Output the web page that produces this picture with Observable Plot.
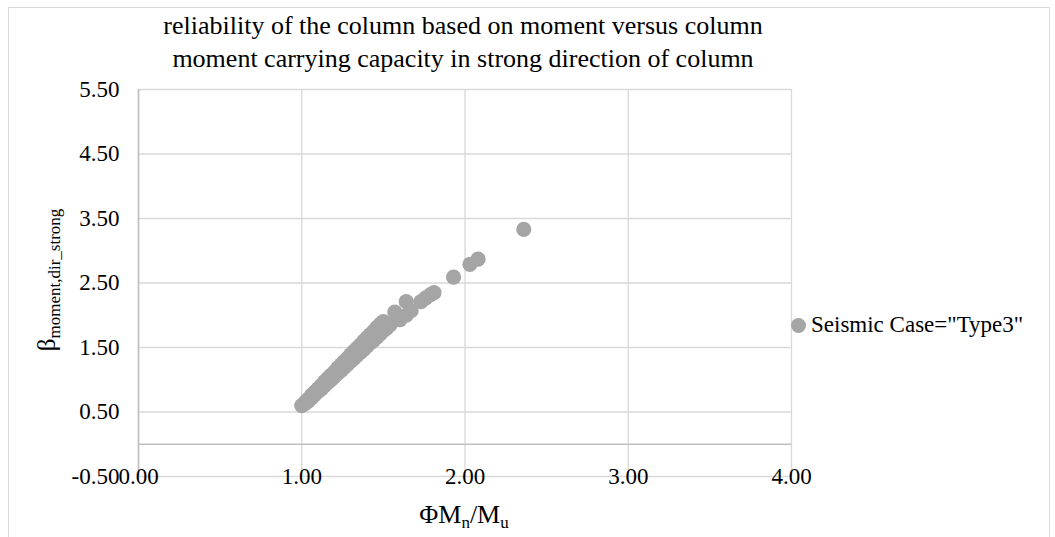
<!DOCTYPE html>
<html>
<head>
<meta charset="utf-8">
<script src="https://cdn.jsdelivr.net/npm/d3@7"></script>
<script src="https://cdn.jsdelivr.net/npm/@observablehq/plot@0.6"></script>
<style>
  body { margin: 0; background: #fff; }
  #chart { position: relative; width: 1055px; height: 537px; overflow: hidden;
           font-family: "Liberation Serif", "Times New Roman", serif; color: #000; }
  #border { position: absolute; left: 8px; top: 7px; width: 1042px; height: 560px; border: 1px solid #d9d9d9; box-sizing: border-box; }
  #title { position: absolute; left: 0; width: 926px; top: 9px; text-align: center; font-size: 26px; line-height: 33px; }
  #legend { position: absolute; left: 791px; top: 310px; height: 30px; display: flex; align-items: center; font-size: 23px; white-space: nowrap; }
  #legend .sw { width: 15px; height: 15px; border-radius: 50%; background: #a5a5a5; margin-right: 5px; }
  #plot svg { position: absolute; left: 0; top: 0; }
  #plot svg text { font-family: "Liberation Serif", "Times New Roman", serif !important; }
</style>
</head>
<body>
<div id="chart">
  <div id="border"></div>
  <div id="plot"></div>
  <div id="title">reliability of the column based on moment versus column<br>moment carrying capacity in strong direction of column</div>
  <div id="legend"><span class="sw"></span><span id="legendText"></span></div>
</div>
<script>
// ---- data ----
const seriesName = 'Seismic Case="Type3"';
const xTicks = [0, 1, 2, 3, 4];
const yTicks = [-0.5, 0.5, 1.5, 2.5, 3.5, 4.5, 5.5];

// ΦMn/Mu values
const ratio = [
  1.00, 1.02, 1.04, 1.06, 1.08, 1.10, 1.12, 1.14, 1.16, 1.18, 1.20, 1.22, 1.24,
  1.26, 1.28, 1.30, 1.32, 1.34, 1.36, 1.38, 1.40, 1.42, 1.44, 1.46, 1.48, 1.50,
  1.02, 1.04, 1.06, 1.08, 1.10, 1.12, 1.14, 1.16, 1.18, 1.20, 1.22, 1.24, 1.26,
  1.28, 1.30, 1.32, 1.34, 1.36, 1.38, 1.40, 1.42, 1.44, 1.46, 1.48, 1.50, 1.52, 1.54,
  1.57, 1.60, 1.64, 1.64, 1.67, 1.73, 1.76, 1.79, 1.81, 1.93, 2.03, 2.08, 2.36
];
// β moment, dir_strong values
const beta = [
  0.60, 0.65, 0.70, 0.76, 0.81, 0.86, 0.91, 0.97, 1.02, 1.07, 1.12, 1.18, 1.23,
  1.28, 1.33, 1.39, 1.44, 1.49, 1.54, 1.60, 1.65, 1.70, 1.75, 1.81, 1.86, 1.90,
  0.63, 0.67, 0.72, 0.77, 0.82, 0.86, 0.91, 0.96, 1.00, 1.05, 1.10, 1.14, 1.19,
  1.24, 1.29, 1.33, 1.38, 1.43, 1.47, 1.52, 1.57, 1.61, 1.66, 1.71, 1.76, 1.80, 1.85,
  2.05, 1.93, 2.00, 2.21, 2.07, 2.21, 2.27, 2.32, 2.35, 2.59, 2.79, 2.87, 3.33
];

const points = ratio.map((x, i) => ({x, y: beta[i]}));

const plot = Plot.plot({
  width: 1055,
  height: 537,
  marginLeft: 138,
  marginRight: 264,
  marginTop: 89,
  marginBottom: 61,
  x: {domain: [0, 4]},
  y: {domain: [-0.5, 5.5]},
  style: {fontFamily: '"Liberation Serif", "Times New Roman", serif', fontSize: "23px", background: "transparent", color: "#000"},
  marks: [
    Plot.gridX(xTicks, {stroke: "#d9d9d9", strokeOpacity: 1, strokeWidth: 1.3}),
    Plot.gridY(yTicks, {stroke: "#d9d9d9", strokeOpacity: 1, strokeWidth: 1.3}),
    Plot.ruleY([0], {stroke: "#bfbfbf", strokeWidth: 1.6}),
    Plot.ruleX([0], {stroke: "#bfbfbf", strokeWidth: 1.6}),
    Plot.axisX(xTicks, {tickSize: 0, tickPadding: -9, tickFormat: d => d.toFixed(2), label: null, fill: "#000"}),
    Plot.axisY(yTicks, {tickSize: 0, tickPadding: 19, tickFormat: d => d.toFixed(2), label: null, fill: "#000"}),
    Plot.dot(points, {x: "x", y: "y", r: 7.6, fill: "#a5a5a5", stroke: "none"})
  ]
});
document.getElementById("plot").appendChild(plot);
document.getElementById("legendText").textContent = seriesName;

const svg = d3.select(plot);
const xt = svg.append("text")
  .attr("x", 464).attr("y", 523)
  .attr("text-anchor", "middle")
  .attr("font-size", 26).attr("fill", "#000");
xt.append("tspan").text("ΦM");
xt.append("tspan").attr("font-size", 17).attr("dy", 5).text("n");
xt.append("tspan").attr("dy", -5).text("/M");
xt.append("tspan").attr("font-size", 17).attr("dy", 5).text("u");

const yt = svg.append("text")
  .attr("transform", "translate(55,280) rotate(-90)")
  .attr("text-anchor", "middle")
  .attr("font-size", 25).attr("fill", "#000");
yt.append("tspan").text("β");
yt.append("tspan").attr("font-size", 17).attr("dy", 5).text("moment,dir_strong");
</script>
</body>
</html>
